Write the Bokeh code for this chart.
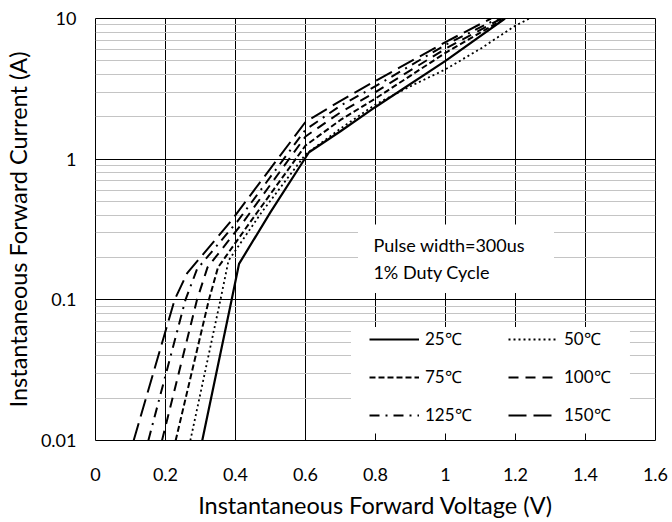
from bokeh.plotting import figure
from bokeh.models import (Legend, LegendItem, FixedTicker, BoxAnnotation, Label,
                          CustomJSTickFormatter)
from bokeh.embed import file_html
from bokeh.resources import INLINE

# ---- data ----
v_25 = [0.305, 0.389, 0.41, 0.50, 0.61, 0.70, 0.80, 1.00, 1.17]
i_25 = [0.01, 0.10, 0.18, 0.42, 1.12, 1.58, 2.35, 5.0, 10.0]

v_50 = [0.271, 0.357, 0.38, 0.475, 0.60, 0.70, 0.80, 0.90, 1.00, 1.10, 1.20, 1.24]
i_50 = [0.01, 0.10, 0.19, 0.42, 1.08, 1.65, 2.45, 3.3, 4.35, 6.1, 8.9, 10.0]

v_75 = [0.229, 0.324, 0.35, 0.443, 0.60, 0.70, 0.80, 1.00, 1.17]
i_75 = [0.01, 0.10, 0.17, 0.36, 1.25, 1.9, 2.7, 5.7, 10.0]

v_100 = [0.19, 0.29, 0.32, 0.423, 0.60, 0.70, 0.80, 1.00, 1.16]
i_100 = [0.01, 0.10, 0.17, 0.36, 1.45, 2.15, 3.0, 6.1, 10.0]

v_125 = [0.151, 0.257, 0.29, 0.405, 0.60, 0.70, 0.80, 1.00, 1.15]
i_125 = [0.01, 0.10, 0.165, 0.36, 1.62, 2.4, 3.3, 6.5, 10.0]

v_150 = [0.109, 0.226, 0.262, 0.386, 0.60, 0.70, 0.80, 1.00, 1.13]
i_150 = [0.01, 0.10, 0.155, 0.36, 1.84, 2.6, 3.6, 6.8, 10.0]

series_labels = ["25℃", "50℃", "75℃", "100℃", "125℃", "150℃"]
x_ticks = [0, 0.2, 0.4, 0.6, 0.8, 1.0, 1.2, 1.4, 1.6]
y_ticks = [0.01, 0.1, 1, 10]
y_minor = [m * d for d in (0.01, 0.1, 1) for m in range(2, 10)]

FONT = "Lato"

p = figure(width=672, height=522, y_axis_type="log",
           x_range=(0, 1.6), y_range=(0.01, 10),
           output_backend="svg", toolbar_location=None,
           min_border_left=95, min_border_right=17,
           min_border_top=18, min_border_bottom=82)

p.background_fill_color = "white"
p.border_fill_color = "white"
p.outline_line_color = "black"
p.outline_line_width = 1

# grids
p.xaxis.ticker = FixedTicker(ticks=x_ticks)
p.yaxis.ticker = FixedTicker(ticks=y_ticks, minor_ticks=y_minor)
p.xgrid.grid_line_color = "black"
p.xgrid.grid_line_width = 1
p.ygrid.grid_line_color = "black"
p.ygrid.grid_line_width = 1
p.ygrid.minor_grid_line_color = "#c4c4c4"
p.ygrid.minor_grid_line_width = 1

p.xaxis.formatter = CustomJSTickFormatter(code="return String(Math.round(tick*10)/10)")
p.yaxis.formatter = CustomJSTickFormatter(code="return String(Number(tick.toPrecision(3)))")

for ax in (p.xaxis, p.yaxis):
    ax.axis_line_color = None
    ax.major_tick_line_color = None
    ax.minor_tick_line_color = None
    ax.major_label_text_font = FONT
    ax.major_label_text_font_size = "18px"
    ax.major_label_text_color = "black"
    ax.axis_label_text_font = FONT
    ax.axis_label_text_font_size = "23.5px"
    ax.axis_label_text_font_style = "normal"
    ax.axis_label_text_color = "black"

p.xaxis.major_label_standoff = 21
p.yaxis.major_label_standoff = 13
p.xaxis.axis_label = "Instantaneous Forward Voltage (V)"
p.yaxis.axis_label = "Instantaneous Forward Current (A)"
p.xaxis.axis_label_standoff = 7
p.yaxis.axis_label_standoff = 6

# curves
styles = [
    (v_25, i_25, "solid", 2.2),
    (v_50, i_50, "2 3", 1.8),
    (v_75, i_75, "6 3", 2),
    (v_100, i_100, "10 7", 2),
    (v_125, i_125, "10 6 2 6", 2),
    (v_150, i_150, "18 7", 2),
]
renderers = []
for v, i, dash, w in styles:
    r = p.line(v, i, line_color="black", line_width=w, line_dash=dash)
    renderers.append(r)

# white boxes behind the note and the legend
p.add_layout(BoxAnnotation(left=0.75, right=1.31, bottom=0.112, top=0.343,
                           fill_color="white", fill_alpha=1, line_color=None))
p.add_layout(BoxAnnotation(left=0.73, right=1.527, bottom=0.0112, top=0.064,
                           fill_color="white", fill_alpha=1, line_color=None))

# note text
for txt, yv in (("Pulse width=300us", 0.247), ("1% Duty Cycle", 0.158)):
    p.add_layout(Label(x=0.794, y=yv, text=txt, text_font=FONT,
                       text_font_size="18px", text_baseline="middle",
                       text_color="black"))

# legends (two columns)
def make_legend(idx, xloc):
    items = [LegendItem(label=series_labels[k], renderers=[renderers[k]]) for k in idx]
    lg = Legend(items=items, location=(xloc, 14), orientation="vertical",
                glyph_width=50, glyph_height=20, label_height=20,
                label_standoff=6, spacing=15, padding=0, margin=0,
                background_fill_alpha=0, border_line_color=None,
                label_text_font=FONT, label_text_font_size="17px",
                label_text_color="black")
    return lg

p.add_layout(make_legend([0, 2, 4], 274), "center")
p.add_layout(make_legend([1, 3, 5], 413), "center")

open("out.html", "w").write(file_html(p, INLINE))
